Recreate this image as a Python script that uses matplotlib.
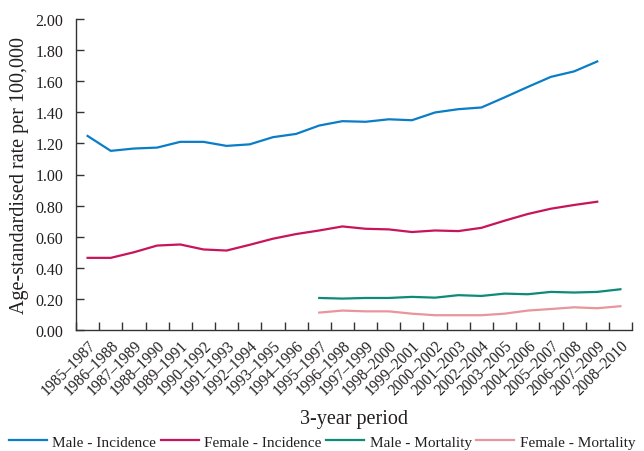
import matplotlib
matplotlib.use("Agg")
import matplotlib.pyplot as plt
import numpy as np

periods = [
    "1985–1987", "1986–1988", "1987–1989", "1988–1990", "1989–1991", "1990–1992",
    "1991–1993", "1992–1994", "1993–1995", "1994–1996", "1995–1997", "1996–1998",
    "1997–1999", "1998–2000", "1999–2001", "2000–2002", "2001–2003", "2002–2004",
    "2003–2005", "2004–2006", "2005–2007", "2006–2008", "2007–2009", "2008–2010",
]

male_incidence = [1.248, 1.152, 1.167, 1.173, 1.210, 1.210, 1.184, 1.194, 1.240, 1.261,
                  1.315, 1.343, 1.339, 1.355, 1.349, 1.399, 1.420, 1.431, 1.496, 1.563,
                  1.628, 1.663, 1.727, None]
female_incidence = [0.464, 0.464, 0.500, 0.543, 0.550, 0.518, 0.511, 0.548, 0.587, 0.617,
                    0.640, 0.666, 0.651, 0.647, 0.630, 0.640, 0.636, 0.657, 0.703, 0.746,
                    0.780, 0.804, 0.825, None]
male_mortality = [None] * 10 + [0.206, 0.202, 0.206, 0.206, 0.213, 0.208, 0.224, 0.219,
                                0.234, 0.230, 0.245, 0.241, 0.245, 0.262]
female_mortality = [None] * 10 + [0.112, 0.125, 0.120, 0.120, 0.105, 0.095, 0.095, 0.095,
                                  0.105, 0.125, 0.135, 0.146, 0.140, 0.153]

series_names = ["Male - Incidence", "Female - Incidence", "Male - Mortality", "Female - Mortality"]
series_colors = ["#0a7dc8", "#c8145a", "#0d8a78", "#e8959b"]

plt.rcParams["font.family"] = ["Liberation Serif", "DejaVu Serif"]

fig = plt.figure(figsize=(6.44, 4.52), dpi=100)
ax = fig.add_axes([76 / 644, 1 - 331 / 452, 556 / 644, 311 / 452])

x = np.arange(len(periods))
for vals, name, col in zip([male_incidence, female_incidence, male_mortality, female_mortality],
                           series_names, series_colors):
    y = np.array([np.nan if v is None else v for v in vals], dtype=float)
    ax.plot(x, y, color=col, lw=1.6, label=name)

ax.set_xlim(-0.5, len(periods) - 0.5)
ax.set_ylim(0, 2.0)
ax.set_yticks(np.arange(0, 2.01, 0.2))
ax.set_yticklabels([f"{v:.2f}" for v in np.arange(0, 2.01, 0.2)], fontsize=11.5, color="#231f20")

# tick marks on category boundaries, labels on category centres
ax.set_xticks(np.arange(-0.5, len(periods), 1.0))
ax.set_xticklabels([])
ax.set_xticks(x, minor=True)
ax.set_xticklabels(periods, minor=True, rotation=45, ha="right", rotation_mode="anchor",
                   fontsize=11.2, color="#231f20")
ax.tick_params(axis="x", which="minor", length=0, pad=5)
ax.tick_params(axis="both", which="major", direction="in", length=6, width=1, color="#333333")
ax.tick_params(axis="y", pad=9)

for side in ["top", "right"]:
    ax.spines[side].set_visible(False)
for side in ["left", "bottom"]:
    ax.spines[side].set_color("#333333")
    ax.spines[side].set_linewidth(1)

ax.set_ylabel("Age-standardised rate per 100,000", fontsize=14.5, color="#231f20", labelpad=5)
ax.set_xlabel("3-year period", fontsize=14.5, color="#231f20", labelpad=8)

fig.legend(loc="lower center", bbox_to_anchor=(0.5, -0.025), ncol=4, frameon=False,
           fontsize=11, handlelength=2.5, handletextpad=0.35, columnspacing=0.3,
           labelcolor="#231f20")

fig.savefig("out.png", dpi=100)
